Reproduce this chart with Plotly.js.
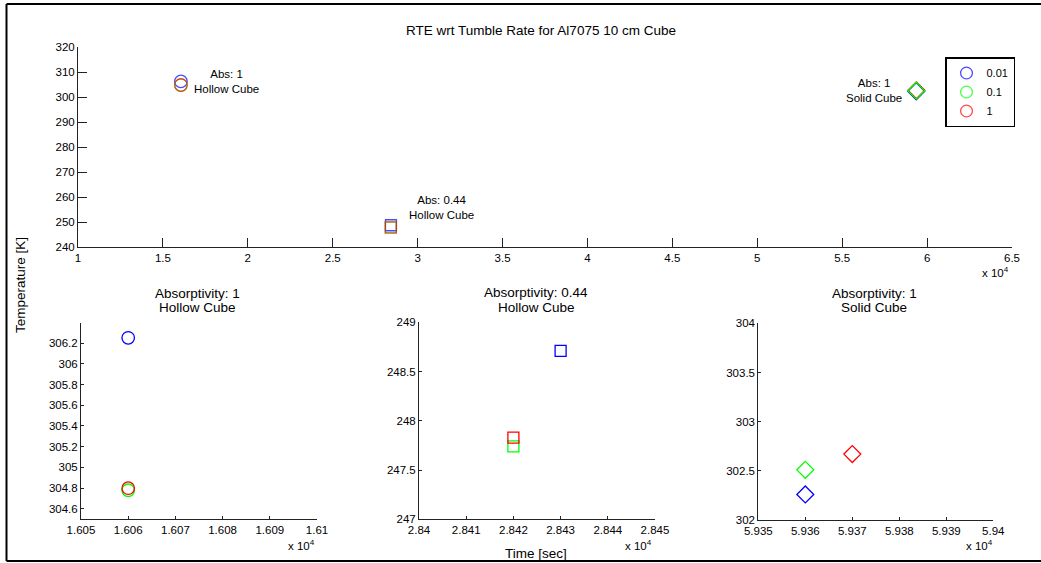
<!DOCTYPE html>
<html>
<head>
<meta charset="utf-8">
<script src="https://cdn.plot.ly/plotly-3.0.1.min.js"></script>
<style>html,body{margin:0;padding:0;background:#fff;}#chart{width:1041px;height:563px;}</style>
</head>
<body>
<div id="chart"></div>
<script>
// ---------------- data ----------------
const rates = ['0.01', '0.1', '1'];
const rateColors = ['#0000ff', '#00ff00', '#ff0000'];
const caseNames = ['Abs: 1 Hollow Cube', 'Abs: 0.44 Hollow Cube', 'Abs: 1 Solid Cube'];
const caseSymbols = ['circle-open', 'square-open', 'diamond-open'];

// time [sec] and temperature [K] per tumble rate, one value per case
const timeRate001 = [16060, 28430, 59360];
const tempRate001 = [306.25, 248.71, 302.26];
const timeRate01 = [16060, 28420, 59360];
const tempRate01 = [304.78, 247.74, 302.51];
const timeRate1 = [16060, 28420, 59370];
const tempRate1 = [304.80, 247.83, 302.67];

// tick labels
const topXTickVals = [10000, 15000, 20000, 25000, 30000, 35000, 40000, 45000, 50000, 55000, 60000, 65000];
const topXTickText = ['1', '1.5', '2', '2.5', '3', '3.5', '4', '4.5', '5', '5.5', '6', '6.5'];
const topYTickVals = [240, 250, 260, 270, 280, 290, 300, 310, 320];

const sub1XTickVals = [16050, 16060, 16070, 16080, 16090, 16100];
const sub1XTickText = ['1.605', '1.606', '1.607', '1.608', '1.609', '1.61'];
const sub1YTickVals = [304.6, 304.8, 305, 305.2, 305.4, 305.6, 305.8, 306, 306.2];

const sub2XTickVals = [28400, 28410, 28420, 28430, 28440, 28450];
const sub2XTickText = ['2.84', '2.841', '2.842', '2.843', '2.844', '2.845'];
const sub2YTickVals = [247, 247.5, 248, 248.5, 249];

const sub3XTickVals = [59350, 59360, 59370, 59380, 59390, 59400];
const sub3XTickText = ['5.935', '5.936', '5.937', '5.938', '5.939', '5.94'];
const sub3YTickVals = [302, 302.5, 303, 303.5, 304];

// ---------------- layout helpers ----------------
const W = 1041, H = 563;
const px = x => x / W;
const py = y => 1 - y / H;
const FONT = 'Liberation Sans, Arial, Helvetica, sans-serif';

const times = [timeRate001, timeRate01, timeRate1];
const temps = [tempRate001, tempRate01, tempRate1];

const traces = [];
// top plot: hollow cases (circles, squares), drawn blue, green, red
for (let r = 0; r < 3; r++) {
  traces.push({
    type: 'scatter', mode: 'markers', xaxis: 'x', yaxis: 'y',
    name: rates[r], legendgroup: rates[r], showlegend: true,
    x: times[r].slice(0, 2), y: temps[r].slice(0, 2),
    marker: {symbol: caseSymbols.slice(0, 2), size: [12.5, 11], color: rateColors[r], line: {width: 1.3}},
    hoverinfo: 'x+y+name'
  });
}
// top plot: solid case diamonds, drawn blue, red, green
[0, 2, 1].forEach(r => {
  traces.push({
    type: 'scatter', mode: 'markers', xaxis: 'x', yaxis: 'y',
    name: rates[r], legendgroup: rates[r], showlegend: false,
    x: times[r].slice(2, 3), y: temps[r].slice(2, 3),
    marker: {symbol: caseSymbols[2], size: 13, color: rateColors[r], line: {width: 1.3}}
  });
});
// bottom zoomed subplots, one per case
const subAxes = [['x2', 'y2'], ['x3', 'y3'], ['x4', 'y4']];
const subSizes = [12.5, 11, 13];
for (let c = 0; c < 3; c++) {
  for (let r = 0; r < 3; r++) {
    traces.push({
      type: 'scatter', mode: 'markers', xaxis: subAxes[c][0], yaxis: subAxes[c][1],
      name: rates[r], legendgroup: rates[r], showlegend: false,
      x: [times[r][c]], y: [temps[r][c]],
      marker: {symbol: caseSymbols[c], size: subSizes[c], color: rateColors[r], line: {width: 1.3}}
    });
  }
}

function axisBase(extra) {
  return Object.assign({
    showgrid: false, zeroline: false, showline: true, mirror: false,
    linecolor: '#222', linewidth: 1, ticks: 'inside', tickcolor: '#222', tickwidth: 1,
    tickfont: {family: FONT, size: 11.5, color: '#000'}, fixedrange: true
  }, extra);
}

const layout = {
  width: W, height: H,
  margin: {l: 0, r: 0, t: 0, b: 0, pad: 0},
  paper_bgcolor: '#fff', plot_bgcolor: '#fff',
  font: {family: FONT, color: '#000'},
  title: {text: 'RTE wrt Tumble Rate for Al7075 10 cm Cube', x: px(541), y: py(30), xanchor: 'center', yanchor: 'middle', font: {family: FONT, size: 13.5, color: '#000'}},
  showlegend: true,
  legend: {x: px(945), y: py(57), xanchor: 'left', yanchor: 'top', bgcolor: '#fff', bordercolor: '#000', borderwidth: 1.5,
           font: {family: FONT, size: 11, color: '#000'}, tracegroupgap: 0, itemwidth: 30},
  xaxis: axisBase({domain: [px(78), px(1012)], range: [10000, 65000], tickvals: topXTickVals, ticktext: topXTickText, ticklen: 9, anchor: 'y'}),
  yaxis: axisBase({domain: [py(247), py(47)], range: [240, 320], tickvals: topYTickVals, ticklen: 9, anchor: 'x'}),
  xaxis2: axisBase({domain: [px(81), px(317)], range: [16050, 16100], tickvals: sub1XTickVals, ticktext: sub1XTickText, ticklen: 3, anchor: 'y2'}),
  yaxis2: axisBase({domain: [py(519.3), py(323.3)], range: [304.5, 306.39], tickvals: sub1YTickVals, ticklen: 3, anchor: 'x2'}),
  xaxis3: axisBase({domain: [px(419), px(655)], range: [28400, 28450], tickvals: sub2XTickVals, ticktext: sub2XTickText, ticklen: 3, anchor: 'y3'}),
  yaxis3: axisBase({domain: [py(519.3), py(322.3)], range: [247, 249], tickvals: sub2YTickVals, ticklen: 3, anchor: 'x3'}),
  xaxis4: axisBase({domain: [px(758.3), px(993.3)], range: [59350, 59400], tickvals: sub3XTickVals, ticktext: sub3XTickText, ticklen: 3, anchor: 'y4'}),
  yaxis4: axisBase({domain: [py(520), py(323.3)], range: [302, 304], tickvals: sub3YTickVals, ticklen: 3, anchor: 'x4'}),
  shapes: [
    {type: 'line', xref: 'paper', yref: 'paper', x0: px(6.5), x1: px(6.5), y0: py(4), y1: py(561), line: {color: '#000', width: 2}},
    {type: 'line', xref: 'paper', yref: 'paper', x0: px(6.5), x1: 1, y0: py(4), y1: py(4), line: {color: '#000', width: 2}},
    {type: 'line', xref: 'paper', yref: 'paper', x0: px(6.5), x1: 1, y0: py(561), y1: py(561), line: {color: '#000', width: 2}}
  ],
  annotations: []
};

function ann(text, x, y, size, opts) {
  layout.annotations.push(Object.assign({
    text: text, xref: 'paper', yref: 'paper', x: px(x), y: py(y),
    xanchor: 'center', yanchor: 'middle', showarrow: false,
    font: {family: FONT, size: size, color: '#000'}
  }, opts || {}));
}

// case labels on the top plot
ann('Abs: 1<br>Hollow Cube', 226, 82, 11.5);
ann('Abs: 0.44<br>Hollow Cube', 441, 207, 11.5);
ann('Abs: 1<br>Solid Cube', 874, 90, 11.5);

// subplot titles
ann('Absorptivity: 1', 197, 293, 13.5);
ann('Hollow Cube', 197, 308, 13.5);
ann('Absorptivity: 0.44', 536, 292, 13.5);
ann('Hollow Cube', 536, 307, 13.5);
ann('Absorptivity: 1', 874, 293, 13.5);
ann('Solid Cube', 874, 308, 13.5);

// axis labels
ann('Temperature [K]', 20, 285, 13.5, {textangle: -90});
ann('Time [sec]', 536, 553, 13.5);

// x 10^4 multipliers
ann('x 10<sup>4</sup>', 1011, 272, 11.5, {xanchor: 'right'});
ann('x 10<sup>4</sup>', 317, 545, 11.5, {xanchor: 'right'});
ann('x 10<sup>4</sup>', 654, 545, 11.5, {xanchor: 'right'});
ann('x 10<sup>4</sup>', 995, 545, 11.5, {xanchor: 'right'});

Plotly.newPlot('chart', traces, layout, {staticPlot: true, displayModeBar: false});
</script>
</body>
</html>
